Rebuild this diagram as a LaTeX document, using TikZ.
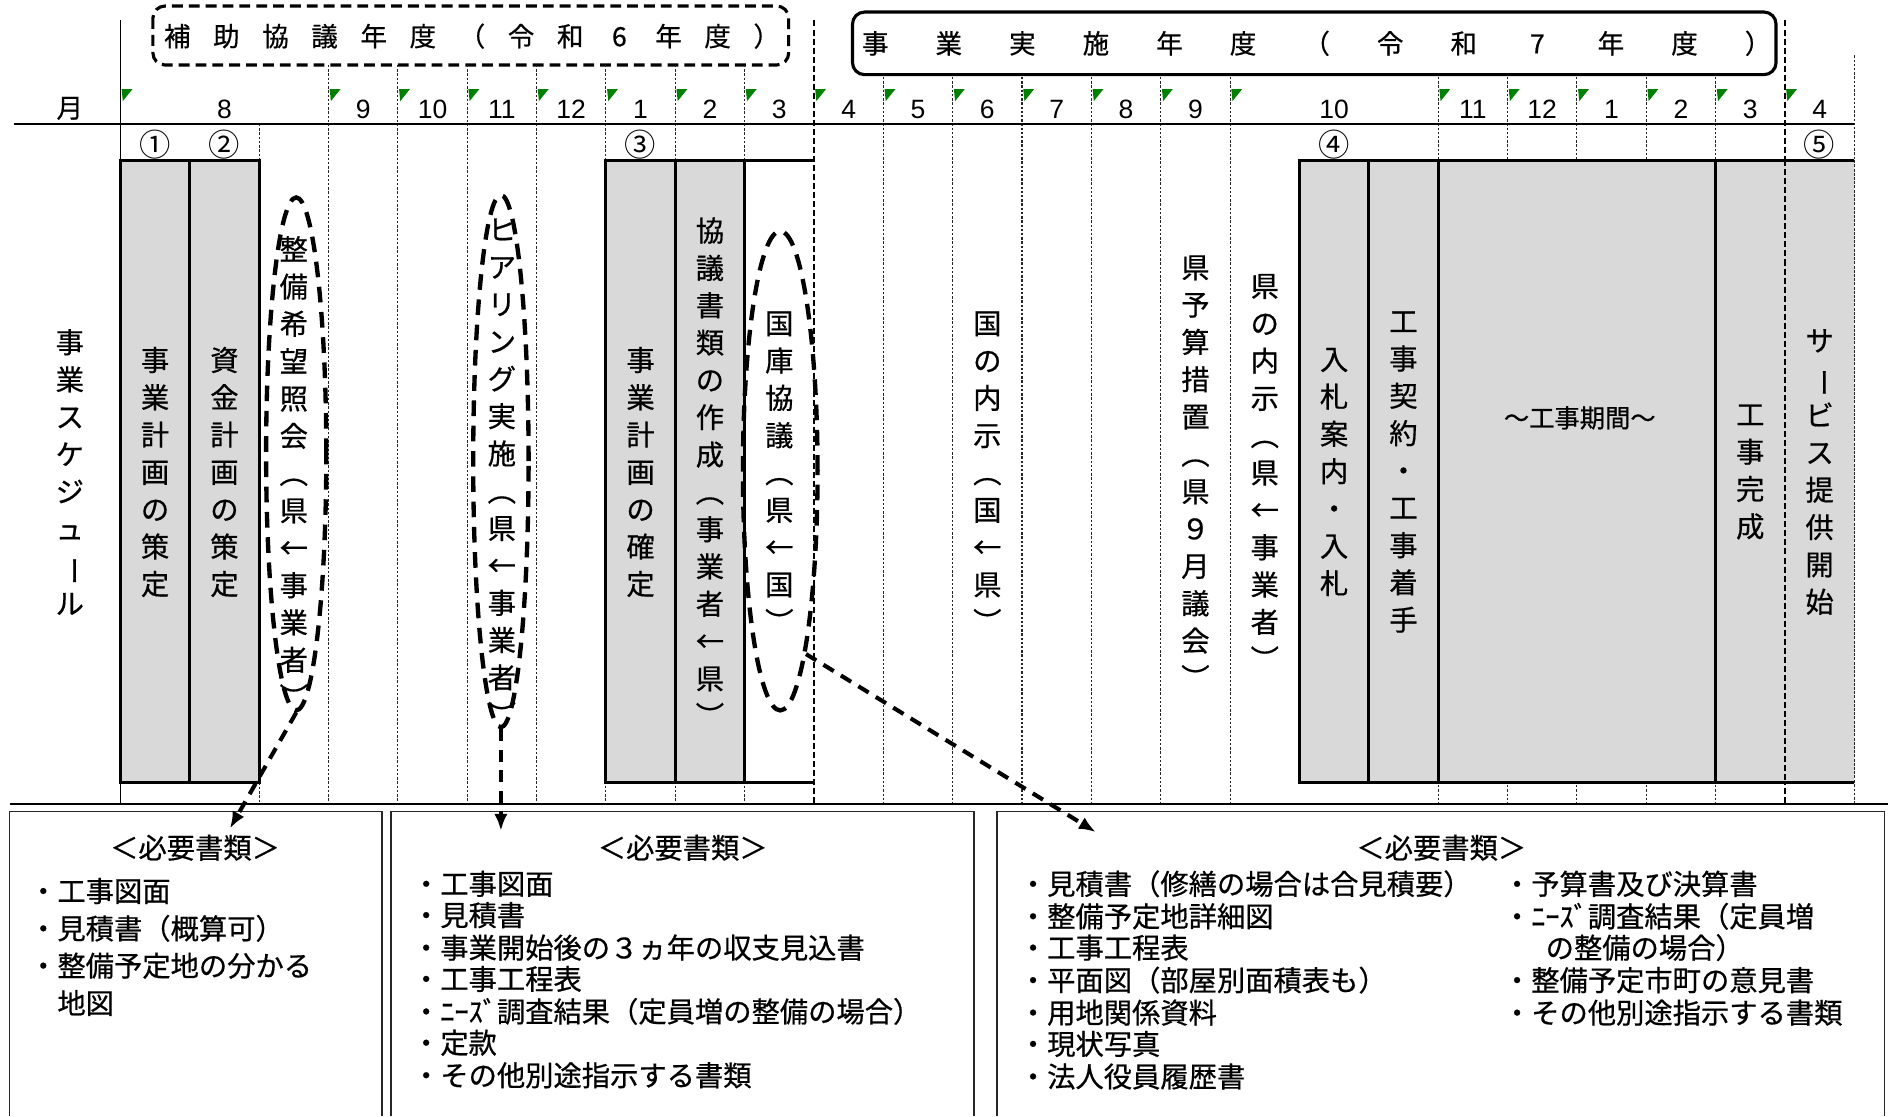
\documentclass[tikz,border=0pt]{standalone}
\usepackage{fontspec}
\usepackage{graphicx}
\usetikzlibrary{arrows.meta,shapes.geometric}
\newfontfamily\jp[FakeBold=0.6]{Noto Sans CJK JP}
\newfontfamily\jpc{Noto Sans CJK JP}
\newfontfamily\arl{Liberation Sans}
\definecolor{boxgray}{HTML}{D9D9D9}
\definecolor{markgreen}{HTML}{008000}
\newcommand\vbar{\rotatebox[origin=c]{-90}{ー}}
\newcommand\hsa[1]{\makebox[40.8pt]{#1}}
\newcommand\hsb[1]{\makebox[61.1pt]{#1}}
\begin{document}
\begin{tikzpicture}[x=1pt,y=-1pt,
  gridline/.style={line width=0.9pt, dash pattern=on 2pt off 1.5pt, black!85},
  yearline/.style={line width=1pt, dash pattern=on 5pt off 2.5pt, black},
  thickb/.style={line width=2.6pt},
  hline/.style={line width=1.6pt},
  vlab/.style={font=\jp\fontsize{23.5}{31}\selectfont, align=center, inner sep=0pt},
  mlab/.style={font=\arl\fontsize{22}{22}\selectfont, anchor=base, inner sep=0pt},
  cnum/.style={font=\jpc\fontsize{26}{26}\selectfont, inner sep=0pt},
  doc/.style={font=\jp\fontsize{23.5}{26}\selectfont, anchor=west, inner sep=0pt},
  dochead/.style={font=\jp\fontsize{23.5}{26}\selectfont, inner sep=0pt},
  hdrtext/.style={font=\jp\fontsize{22}{22}\selectfont, inner sep=0pt},
  ell/.style={draw, ellipse, line width=3.6pt, dash pattern=on 13pt off 8pt, inner sep=0pt},
  darr/.style={line width=3.4pt, dash pattern=on 10pt off 7pt, -{Latex[length=14pt,width=11pt]}},
  docbox/.style={line width=1.4pt, black!85},
]
\useasboundingbox (0,0) rectangle (1568,927);
\fill[white] (0,0) rectangle (1568,927);

% header frames
\draw[line width=2.6pt, dash pattern=on 9pt off 5pt, rounded corners=10pt] (127,5) rectangle (655,54);
\draw[line width=2.6pt, rounded corners=10pt] (708,10) rectangle (1475,62);
\node[hdrtext] (hA) at (392,30) {\hsa{補}\hsa{助}\hsa{協}\hsa{議}\hsa{年}\hsa{度}\hsa{（}\hsa{令}\hsa{和}\hsa{6}\hsa{年}\hsa{度}\hsa{）}};
\node[hdrtext] (hB) at (1093.5,36) {\hsb{事}\hsb{業}\hsb{実}\hsb{施}\hsb{年}\hsb{度}\hsb{（}\hsb{令}\hsb{和}\hsb{7}\hsb{年}\hsb{度}\hsb{）}};

% grid lines
\draw[line width=1.2pt] (100,17) -- (100,668);
\draw[gridline] (215.2,103) -- (215.2,133);
\draw[gridline] (215.2,650) -- (215.2,668);
\foreach \k in {3,...,9} \draw[gridline] ({100+57.6*\k},54) -- ({100+57.6*\k},668);
\foreach \k in {11,...,16,19,20,21,22,23} \draw[gridline] ({100+57.6*\k},64) -- ({100+57.6*\k},668);
\draw[yearline] (676,17) -- (676,668);
\draw[yearline] (1482.4,17) -- (1482.4,668);
\draw[gridline] (1540,46) -- (1540,668);

% horizontal lines
\draw[hline] (12,103) -- (1540,103);
\draw[hline] (8,668) -- (1568,668);

% green markers
\foreach \k in {0,3,4,...,16,19,20,...,24}
  \fill[markgreen] ({100+57.6*\k+1},74) -- ++(9,0) -- ++(-8,10) -- cycle;

% month labels
\node[font=\jp\fontsize{22}{22}\selectfont, inner sep=0pt] (mon) at (58,90) {月};
\foreach \c/\m [count=\i] in {1.5/8,3.5/9,4.5/10,5.5/11,6.5/12,7.5/1,8.5/2,9.5/3,10.5/4,11.5/5,12.5/6,13.5/7,14.5/8,15.5/9,17.5/10,19.5/11,20.5/12,21.5/1,22.5/2,23.5/3,24.5/4}
  \node[mlab] (m\i) at ({100+57.6*\c},98) {\m};

% circled numbers
\node[cnum] (c1) at (128.8,120) {①};
\node[cnum] (c2) at (186.4,120) {②};
\node[cnum] (c3) at (532,120) {③};
\node[cnum] (c4) at (1108,120) {④};
\node[cnum] (c5) at (1511.2,120) {⑤};

% boxes
\draw[thickb, fill=boxgray] (100,133) rectangle (215.2,650);
\draw[thickb] (157.6,133) -- (157.6,650);
\fill[boxgray] (503.2,133) rectangle (618.4,650);
\draw[thickb] (676,133) -- (503.2,133) -- (503.2,650) -- (676,650);
\draw[thickb] (560.8,133) -- (560.8,650);
\draw[thickb] (618.4,133) -- (618.4,650);
\fill[boxgray] (1079.2,133) rectangle (1540,650);
\draw[thickb] (1540,133) -- (1079.2,133) -- (1079.2,650) -- (1540,650);
\draw[thickb] (1136.8,133) -- (1136.8,650);
\draw[thickb] (1194.4,133) -- (1194.4,650);
\draw[thickb] (1424.8,133) -- (1424.8,650);
\draw[yearline] (1482.4,133) -- (1482.4,650);
\draw[gridline] (1540,133) -- (1540,650);

% vertical texts
\node[vlab] (sched) at (58,392) {事\\業\\ス\\ケ\\ジ\\ュ\\ \vbar\\ル};
\node[vlab] (t1) at (128.8,392) {事\\業\\計\\画\\の\\策\\定};
\node[vlab] (t2) at (186.4,392) {資\\金\\計\\画\\の\\策\\定};
\node[vlab] (t3) at (244,392) {整\\備\\希\\望\\照\\会\\︵\\県\\←\\事\\業\\者\\︶};
\node[vlab] (t4) at (416.8,392) {ヒ\\ア\\リ\\ン\\グ\\実\\施\\︵\\県\\←\\事\\業\\者\\︶};
\node[vlab] (t5) at (532,392) {事\\業\\計\\画\\の\\確\\定};
\node[vlab] (t6) at (589.6,392) {協\\議\\書\\類\\の\\作\\成\\︵\\事\\業\\者\\←\\県\\︶};
\node[vlab] (t7) at (647.2,392) {国\\庫\\協\\議\\︵\\県\\←\\国\\︶};
\node[vlab] (t8) at (820,392) {国\\の\\内\\示\\︵\\国\\←\\県\\︶};
\node[vlab] (t9) at (992.8,392) {県\\予\\算\\措\\置\\︵\\県\\９\\月\\議\\会\\︶};
\node[vlab] (t10) at (1050.4,392) {県\\の\\内\\示\\︵\\県\\←\\事\\業\\者\\︶};
\node[vlab] (t11) at (1108,392) {入\\札\\案\\内\\・\\入\\札};
\node[vlab] (t12) at (1165.6,392) {工\\事\\契\\約\\・\\工\\事\\着\\手};
\node[font=\jp\fontsize{21}{21}\selectfont, inner sep=0pt] (t13) at (1312,347) {～工事期間～};
\node[vlab] (t14) at (1453.6,392) {工\\事\\完\\成};
\node[vlab] (t15) at (1511.2,392) {サ\\ \vbar\\ビ\\ス\\提\\供\\開\\始};

% ellipses
\node[ell, minimum width=50pt, minimum height=426pt] (e1) at (246,377) {};
\node[ell, minimum width=46pt, minimum height=442pt] (e2) at (416,383) {};
\node[ell, minimum width=62pt, minimum height=398pt] (e3) at (648,391) {};

% bottom boxes
\draw[docbox] (8,927) -- (8,674) -- (317,674) -- (317,927);
\draw[docbox] (325,927) -- (325,674) -- (809,674) -- (809,927);
\draw[docbox] (828,927) -- (828,674) -- (1565,674) -- (1565,927);

\node[dochead] (d1h) at (162,704) {＜必要書類＞};
\node[doc] (d1a) at (24,740) {・工事図面};
\node[doc] (d1b) at (24,771) {・見積書（概算可）};
\node[doc] (d1c) at (24,802) {・整備予定地の分かる};
\node[doc] (d1d) at (24,833) {\phantom{・}地図};

\node[dochead] (d2h) at (567,704) {＜必要書類＞};
\node[doc] (d2a) at (342,734) {・工事図面};
\node[doc] (d2b) at (342,760) {・見積書};
\node[doc] (d2c) at (342,787) {・事業開始後の３ヵ年の収支見込書};
\node[doc] (d2d) at (342,813) {・工事工程表};
\node[doc] (d2e) at (342,840) {・ﾆｰｽﾞ調査結果（定員増の整備の場合）};
\node[doc] (d2f) at (342,866) {・定款};
\node[doc] (d2g) at (342,893) {・その他別途指示する書類};

\node[dochead] (d3h) at (1197,704) {＜必要書類＞};
\node[doc] (d3a) at (846,734) {・見積書（修繕の場合は合見積要）};
\node[doc] (d3b) at (846,761) {・整備予定地詳細図};
\node[doc] (d3c) at (846,787) {・工事工程表};
\node[doc] (d3d) at (846,814) {・平面図（部屋別面積表も）};
\node[doc] (d3e) at (846,841) {・用地関係資料};
\node[doc] (d3f) at (846,867) {・現状写真};
\node[doc] (d3g) at (846,894) {・法人役員履歴書};
\node[doc] (d3h2) at (1248,734) {・予算書及び決算書};
\node[doc] (d3i) at (1248,761) {・ﾆｰｽﾞ調査結果（定員増};
\node[doc] (d3j) at (1248,787) {\phantom{・}\kern12pt の整備の場合）};
\node[doc] (d3k) at (1248,814) {・整備予定市町の意見書};
\node[doc] (d3l) at (1248,841) {・その他別途指示する書類};

% arrows
\coordinate (a1) at (191,688);
\coordinate (a2) at (416,690);
\coordinate (a3) at (910,691);
\draw[darr] (e1.south) -- (a1);
\draw[darr] (e2.south) -- (a2);
\draw[darr] (e3.-82) -- (a3);
\end{tikzpicture}
\end{document}
